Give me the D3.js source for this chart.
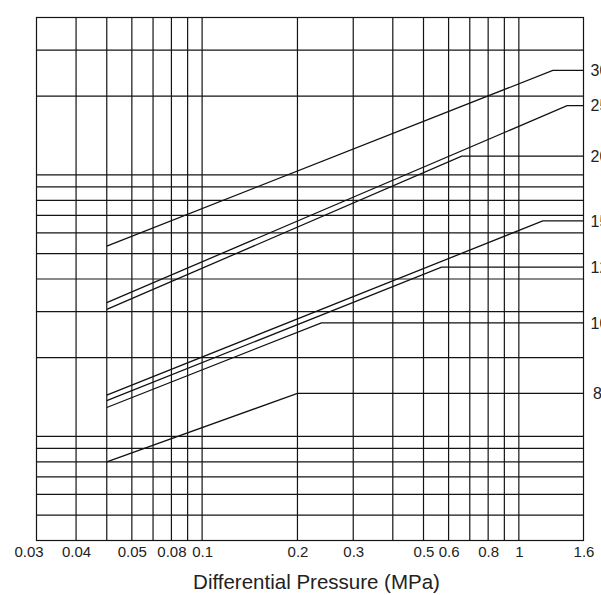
<!DOCTYPE html>
<html>
<head>
<meta charset="utf-8">
<script src="https://cdn.jsdelivr.net/npm/d3@7"></script>
<style>
  html, body { margin: 0; padding: 0; background: #fff; }
  svg { display: block; font-family: "Liberation Sans", Arial, sans-serif; }
</style>
</head>
<body>
<svg id="chart" width="601" height="595"></svg>
<script>
// Flow curves vs. differential pressure (log-log), one line per model size.
const seriesNames = ["30", "25", "20", "15", "12", "10", "8"];
const startPressure = 0.05;                                   // MPa, where every curve begins
const startFlow  = [53.4, 32.5, 30.6, 14.4, 13.7, 12.9, 8.0];
const breakPressure = [1.28, 1.42, 0.66, 1.19, 0.57, 0.238, 0.2];
const breakFlow  = [251, 184, 118, 66.7, 44.4, 27.2, 14.6];
const endPressure = 1.6;

const xDomain = [0.03, 1.6];
const yDomain = [4, 400];
const xGrid = [0.04, 0.05, 0.06, 0.07, 0.08, 0.09, 0.1, 0.2, 0.3, 0.4, 0.5, 0.6, 0.7, 0.8, 0.9, 1];
const yGrid = [5, 6, 7, 8, 9, 10, 20, 30, 40, 50, 60, 70, 80, 90, 100, 200, 300];
const xTickValues = [0.03, 0.04, 0.06, 0.08, 0.1, 0.2, 0.3, 0.5, 0.6, 0.8, 1, 1.6];
const xTickLabels = ["0.03", "0.04", "0.05", "0.08", "0.1", "0.2", "0.3", "0.5", "0.6", "0.8", "1", "1.6"];
const xTitle = "Differential Pressure (MPa)";

const svg = d3.select("#chart");
const plotLeft = 36.5, plotRight = 583.5, plotTop = 17.5, plotBottom = 540.5;

const x = d3.scaleLog().domain(xDomain).range([plotLeft, plotRight]);
const y = d3.scaleLog().domain(yDomain).range([plotBottom, plotTop]);

const ink = "#141414";

// grid
const grid = svg.append("g").attr("stroke", ink).attr("stroke-width", 1.2);
grid.selectAll("line.v").data(xGrid).join("line")
  .attr("class", "v")
  .attr("x1", d => x(d)).attr("x2", d => x(d))
  .attr("y1", plotTop).attr("y2", plotBottom);
grid.selectAll("line.h").data(yGrid).join("line")
  .attr("class", "h")
  .attr("x1", plotLeft).attr("x2", plotRight)
  .attr("y1", d => y(d)).attr("y2", d => y(d));

// frame
svg.append("rect")
  .attr("x", plotLeft).attr("y", plotTop)
  .attr("width", plotRight - plotLeft).attr("height", plotBottom - plotTop)
  .attr("fill", "none").attr("stroke", ink).attr("stroke-width", 1.2);

// bottom axis labels
const xAxis = d3.axisBottom(x)
  .tickValues(xTickValues)
  .tickSize(0)
  .tickPadding(6)
  .tickFormat((d, i) => xTickLabels[i]);
const axisG = svg.append("g")
  .attr("transform", `translate(0,${plotBottom})`)
  .call(xAxis);
axisG.select(".domain").remove();
axisG.selectAll("text")
  .attr("font-family", "'Liberation Sans', Arial, sans-serif")
  .attr("font-size", 15)
  .attr("fill", "#222")
  .attr("dy", "0.68em")
  .attr("dx", (d, i) => i === 0 ? -8 : 0);

// curves: rising segment then flat to the right edge
const line = d3.line().x(d => x(d[0])).y(d => y(d[1]));
const curves = seriesNames.map((name, i) => ({
  name,
  pts: [[startPressure, startFlow[i]], [breakPressure[i], breakFlow[i]], [endPressure, breakFlow[i]]]
}));

svg.append("g").selectAll("path").data(curves).join("path")
  .attr("d", d => line(d.pts))
  .attr("fill", "none")
  .attr("stroke", "#111")
  .attr("stroke-width", 1.3);

// size labels at the right edge
svg.append("g").selectAll("text").data(curves).join("text")
  .attr("x", d => plotRight + (d.name.length === 1 ? 9.5 : 7))
  .attr("y", d => y(d.pts[2][1]))
  .attr("dy", "0.36em")
  .attr("font-family", "'Liberation Sans Narrow', 'Liberation Sans', Arial, sans-serif")
  .attr("font-size", 16)
  .attr("fill", "#222")
  .text(d => d.name);

// axis title
svg.append("text")
  .attr("x", 316.5)
  .attr("y", 589)
  .attr("text-anchor", "middle")
  .attr("font-size", 20.5)
  .attr("fill", "#222")
  .text(xTitle);
</script>
</body>
</html>
